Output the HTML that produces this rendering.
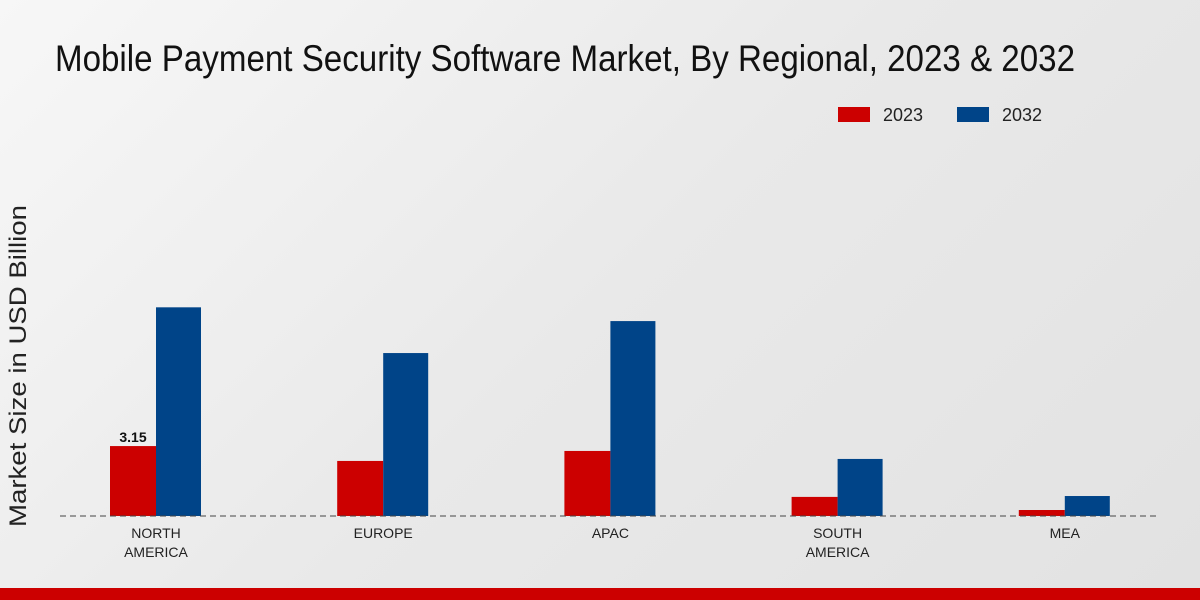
<!DOCTYPE html>
<html><head><meta charset="utf-8"><style>
body{margin:0;width:1200px;height:600px;overflow:hidden;font-family:"Liberation Sans",sans-serif;}
#bg{position:absolute;left:0;top:0;width:1200px;height:600px;background:linear-gradient(135deg,#f7f7f7 0%,#e9e9e9 50%,#e2e2e2 100%);}
</style></head><body>
<div id="bg"></div>
<svg id="chart" width="1200" height="600" style="position:absolute;left:0;top:0">
<text x="55" y="71" font-family="'Liberation Sans Narrow','Liberation Sans',sans-serif" font-size="37" fill="#111" textLength="1020" lengthAdjust="spacingAndGlyphs">Mobile Payment Security Software Market, By Regional, 2023 &amp; 2032</text>
<g>
<rect x="838" y="107" width="32" height="15" fill="#cc0000"/>
<text x="883" y="121" font-size="18" fill="#222">2023</text>
<rect x="957" y="107" width="32" height="15" fill="#004488"/>
<text x="1002" y="121" font-size="18" fill="#222">2032</text>
</g>
<text transform="translate(26,366) rotate(-90)" text-anchor="middle" font-size="24" fill="#222" textLength="322" lengthAdjust="spacingAndGlyphs">Market Size in USD Billion</text>
<g id="bars"></g>
<line x1="60" y1="516" x2="1160" y2="516" stroke="#444" stroke-dasharray="6,4"/>
<g id="labels"></g>
<rect x="0" y="588" width="1200" height="12" fill="#cc0000"/>
</svg>
<script>
const categories=[["NORTH","AMERICA"],["EUROPE"],["APAC"],["SOUTH","AMERICA"],["MEA"]];
const values2023=[3.15,2.48,2.93,0.86,0.27];
const values2032=[9.4,7.34,8.78,2.57,0.9];
const shownLabels=["3.15",null,null,null,null];
const ns="http://www.w3.org/2000/svg";
const base=516,scale=22.2;
function y(v){return base-v*scale;}
function cx(i){return 156+i*227.2;}
const bars=document.getElementById('bars'),labels=document.getElementById('labels');
function mk(t,a){const e=document.createElementNS(ns,t);for(const k in a)e.setAttribute(k,a[k]);return e;}
categories.forEach((c,i)=>{
  const r=mk('rect',{x:cx(i)-46,y:y(values2023[i]),width:46,height:base-y(values2023[i]),fill:'#cc0000'});
  
  
  bars.appendChild(r);
  const b=mk('rect',{x:cx(i),y:y(values2032[i]),width:45,height:base-y(values2032[i]),fill:'#004488'});
  
  
  bars.appendChild(b);
  if(shownLabels[i]){
    const t=mk('text',{x:cx(i)-23,y:y(values2023[i])-4,'text-anchor':'middle','font-size':14,'font-weight':'bold',fill:'#111'});
    t.textContent=shownLabels[i];
    
    
    labels.appendChild(t);
  }
  c.forEach((line,j)=>{
    const t=mk('text',{x:cx(i),y:538+j*19,'text-anchor':'middle','font-size':14,fill:'#222'});
    t.textContent=line;
    
    
    labels.appendChild(t);
  });
});
</script>
</body></html>
